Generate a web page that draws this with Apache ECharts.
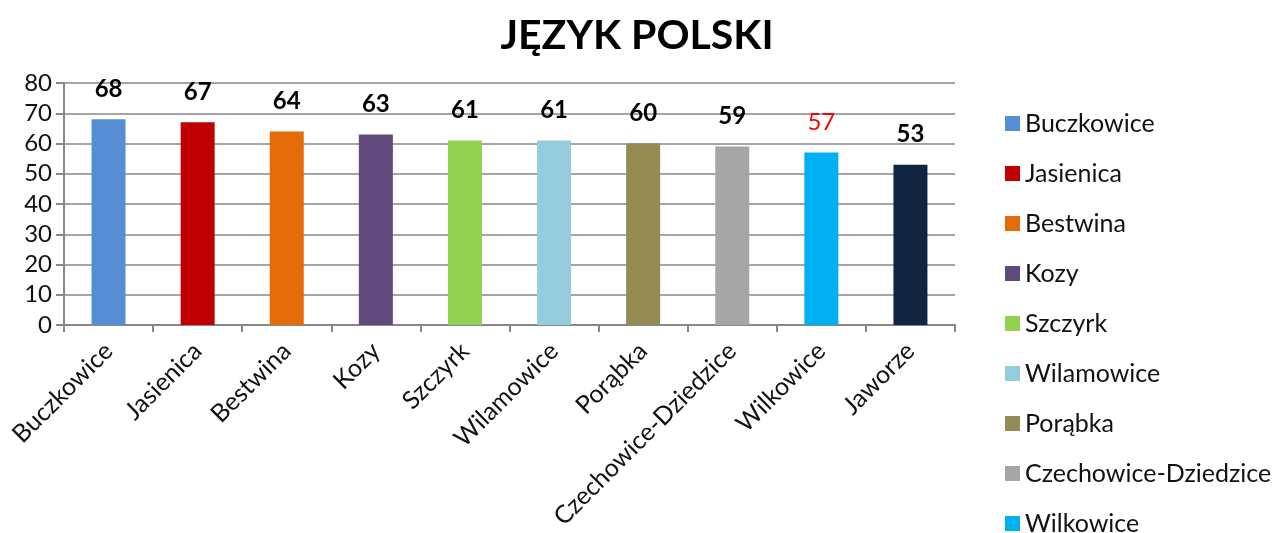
<!DOCTYPE html>
<html>
<head>
<meta charset="utf-8">
<script src="https://cdn.jsdelivr.net/npm/echarts@6/dist/echarts.min.js"></script>
<style>
  html, body { margin: 0; padding: 0; background: #fff; }
  #main { width: 1274px; height: 533px; }
</style>
</head>
<body>
<div id="main"></div>
<script>
var schools = ['Buczkowice', 'Jasienica', 'Bestwina', 'Kozy', 'Szczyrk', 'Wilamowice', 'Porąbka', 'Czechowice-Dziedzice', 'Wilkowice', 'Jaworze'];
var scores = [68, 67, 64, 63, 61, 61, 60, 59, 57, 53];
var colors = ['#558ed5', '#c00000', '#e46c0a', '#604a7b', '#92d050', '#93cddd', '#948a54', '#a6a6a6', '#00b0f0', '#10253f'];
var yTicks = [0, 80, 10];

function createChart() {
    var chartDom = document.getElementById('main');
    var myChart = echarts.init(chartDom);
    var font = 'Lato, "Open Sans", sans-serif';

    // one series per school so every school gets its own legend entry
    var series = schools.map(function (name, i) {
        var data = schools.map(function (s, j) { return j === i ? scores[j] : '-'; });
        var red = name === 'Wilkowice';
        return {
            name: name,
            type: 'bar',
            stack: 'all',
            barWidth: 34,
            itemStyle: { color: colors[i] },
            label: {
                show: true,
                position: 'top',
                distance: 18,
                fontFamily: font,
                fontSize: 24,
                fontWeight: red ? 'normal' : 'bold',
                color: red ? '#ff0000' : '#000'
            },
            data: data
        };
    });

    var option = {
        animation: false,
        title: {
            text: 'JĘZYK POLSKI',
            left: 'center',
            top: 10,
            textStyle: { fontFamily: font, fontSize: 41, fontWeight: 'bold', color: '#000' }
        },
        legend: {
            orient: 'vertical',
            left: 1000,
            top: 106,
            height: 800,
            itemWidth: 15,
            itemHeight: 15,
            itemGap: 25,
            icon: 'rect',
            textStyle: { fontFamily: font, fontSize: 25, color: '#111' },
            data: schools
        },
        grid: { left: 64, right: 319, top: 83, bottom: 208 },
        xAxis: {
            type: 'category',
            data: schools,
            axisLine: { lineStyle: { color: '#878787', width: 2 } },
            axisTick: { show: true, length: 7, lineStyle: { color: '#878787', width: 2 } },
            axisLabel: { rotate: 45, interval: 0, fontFamily: font, fontSize: 25, color: '#111', margin: 22 }
        },
        yAxis: {
            type: 'value',
            min: yTicks[0],
            max: yTicks[1],
            interval: yTicks[2],
            axisLine: { show: true, lineStyle: { color: '#878787', width: 2 } },
            axisTick: { show: true, length: 8, lineStyle: { color: '#878787', width: 2 } },
            splitLine: { lineStyle: { color: '#878787', width: 1.5 } },
            axisLabel: { fontFamily: font, fontSize: 24, color: '#111', margin: 12 }
        },
        series: series
    };

    option && myChart.setOption(option);
}

createChart();
</script>
</body>
</html>
